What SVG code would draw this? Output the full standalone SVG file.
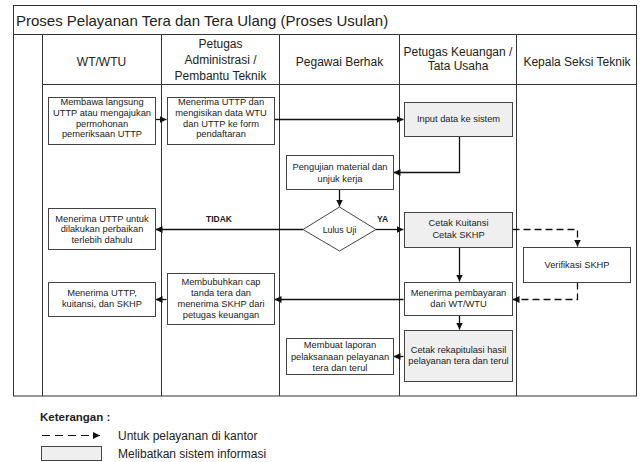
<svg xmlns="http://www.w3.org/2000/svg" width="640" height="462" viewBox="0 0 640 462">
  <defs>
    <marker id="arr" markerWidth="8" markerHeight="8" refX="7" refY="4" orient="auto" markerUnits="userSpaceOnUse">
      <path d="M0,0.5 L7,4 L0,7.5 Z" fill="#111"/>
    </marker>
    <style>
      .frame { fill: none; stroke: #333; stroke-width: 1; }
      .box { fill: #fff; stroke: #444; stroke-width: 1; }
      .sys { fill: #efefef; stroke: #444; stroke-width: 1; }
      .t { font-family: "Liberation Sans", Arial, sans-serif; font-size: 9.3px; fill: #222; text-anchor: middle; }
      .h { font-family: "Liberation Sans", Arial, sans-serif; font-size: 12px; fill: #222; text-anchor: middle; }
      .lbl { font-family: "Liberation Sans", Arial, sans-serif; font-size: 8.5px; font-weight: bold; fill: #222; }
      .flow { fill: none; stroke: #111; stroke-width: 1.3; marker-end: url(#arr); }
      .dash { fill: none; stroke: #111; stroke-width: 1.3; stroke-dasharray: 7 4; marker-end: url(#arr); }
      .leg { font-family: "Liberation Sans", Arial, sans-serif; font-size: 12px; fill: #222; }
    </style>
  </defs>

  <rect width="640" height="462" fill="#fff"/>

  <!-- swimlane frame -->
  <g id="frame">
    <rect class="frame" x="13.5" y="5.5" width="623" height="390.5"/>
    <line class="frame" x1="13.5" y1="34.5" x2="636.5" y2="34.5"/>
    <line class="frame" x1="42.5" y1="84.5" x2="636.5" y2="84.5"/>
    <line class="frame" x1="42.5" y1="34.5" x2="42.5" y2="396"/>
    <line class="frame" x1="161.5" y1="34.5" x2="161.5" y2="396"/>
    <line class="frame" x1="279.5" y1="34.5" x2="279.5" y2="396"/>
    <line class="frame" x1="399.5" y1="34.5" x2="399.5" y2="396"/>
    <line class="frame" x1="516.5" y1="34.5" x2="516.5" y2="396"/>
    <text x="16" y="26" font-family="Liberation Sans, Arial, sans-serif" font-size="15px" fill="#222">Proses Pelayanan Tera dan Tera Ulang (Proses Usulan)</text>
  </g>

  <!-- lane headers -->
  <g id="headers">
    <text class="h" x="101.5" y="66">WT/WTU</text>
    <text class="h" x="220.5" y="47.5">Petugas</text>
    <text class="h" x="220.5" y="63.5">Administrasi /</text>
    <text class="h" x="220.5" y="79.5">Pembantu Teknik</text>
    <text class="h" x="339.5" y="66">Pegawai Berhak</text>
    <text class="h" x="458" y="56">Petugas Keuangan /</text>
    <text class="h" x="458" y="69.5">Tata Usaha</text>
    <text class="h" x="577" y="66">Kepala Seksi Teknik</text>
  </g>

  <!-- connectors -->
  <g id="connectors">
    <path class="flow" d="M155.5,119.5 H166.5"/>
    <path class="flow" d="M274.5,119.5 H403.5"/>
    <path class="flow" d="M459.5,136.5 V172.5 H393.5"/>
    <path class="flow" d="M339.5,189.5 V206.5"/>
    <path class="flow" d="M303,229.5 H155.5"/>
    <path class="flow" d="M376,229.5 H403.5"/>
    <path class="dash" d="M512.5,229.5 H577.5 V246.5"/>
    <path class="flow" d="M459.5,247.5 V281.5"/>
    <path class="dash" d="M577.5,282.5 V299.5 H512.5"/>
    <path class="flow" d="M403.5,299.5 H274.5"/>
    <path class="flow" d="M166.5,299.5 H155.5"/>
    <path class="flow" d="M459.5,315.5 V329.5"/>
    <path class="flow" d="M403.5,356.5 H393.5"/>
    <text class="lbl" x="206" y="222">TIDAK</text>
    <text class="lbl" x="377" y="222">YA</text>
  </g>

  <!-- WT/WTU lane -->
  <g id="n-membawa">
    <rect class="box" x="48.5" y="97.5" width="107" height="47"/>
    <text class="t" x="102" y="105">Membawa langsung</text>
    <text class="t" x="102" y="115.8">UTTP atau mengajukan</text>
    <text class="t" x="102" y="126.6">permohonan</text>
    <text class="t" x="102" y="137.4">pemeriksaan UTTP</text>
  </g>
  <g id="n-perbaikan">
    <rect class="box" x="48.5" y="208.5" width="107" height="41"/>
    <text class="t" x="102" y="221.5">Menerima UTTP untuk</text>
    <text class="t" x="102" y="232.3">dilakukan perbaikan</text>
    <text class="t" x="102" y="243.1">terlebih dahulu</text>
  </g>
  <g id="n-terima-skhp">
    <rect class="box" x="48.5" y="282.5" width="107" height="34"/>
    <text class="t" x="102" y="296">Menerima UTTP,</text>
    <text class="t" x="102" y="307">kuitansi, dan SKHP</text>
  </g>

  <!-- Petugas Administrasi lane -->
  <g id="n-pendaftaran">
    <rect class="box" x="167.5" y="97.5" width="107" height="47"/>
    <text class="t" x="221" y="105">Menerima UTTP dan</text>
    <text class="t" x="221" y="115.8">mengisikan data WTU</text>
    <text class="t" x="221" y="126.6">dan UTTP ke form</text>
    <text class="t" x="221" y="137.4">pendaftaran</text>
  </g>
  <g id="n-cap">
    <rect class="box" x="167.5" y="273.5" width="107" height="51"/>
    <text class="t" x="221" y="285">Membubuhkan cap</text>
    <text class="t" x="221" y="295.8">tanda tera dan</text>
    <text class="t" x="221" y="306.8">menerima SKHP dari</text>
    <text class="t" x="221" y="317.8">petugas keuangan</text>
  </g>

  <!-- Pegawai Berhak lane -->
  <g id="n-pengujian">
    <rect class="box" x="286.5" y="155.5" width="107" height="34"/>
    <text class="t" x="340" y="169.5">Pengujian material dan</text>
    <text class="t" x="340" y="181.5">unjuk kerja</text>
  </g>
  <g id="n-lulus">
    <polygon class="box" points="339.5,207 376,229.5 339.5,251 303,229.5"/>
    <text class="t" x="339.5" y="232.5" style="font-size:8.8px">Lulus Uji</text>
  </g>
  <g id="n-laporan">
    <rect class="box" x="286.5" y="338.5" width="107" height="36"/>
    <text class="t" x="340" y="347.5">Membuat laporan</text>
    <text class="t" x="340" y="359.5">pelaksanaan pelayanan</text>
    <text class="t" x="340" y="371">tera dan terul</text>
  </g>

  <!-- Petugas Keuangan lane -->
  <g id="n-input">
    <rect class="sys" x="404.5" y="102.5" width="108" height="34"/>
    <text class="t" x="458.5" y="121.5">Input data ke sistem</text>
  </g>
  <g id="n-cetak">
    <rect class="sys" x="404.5" y="212.5" width="108" height="35"/>
    <text class="t" x="458.5" y="226">Cetak Kuitansi</text>
    <text class="t" x="458.5" y="238">Cetak SKHP</text>
  </g>
  <g id="n-pembayaran">
    <rect class="box" x="404.5" y="282.5" width="108" height="33"/>
    <text class="t" x="458.5" y="295.5">Menerima pembayaran</text>
    <text class="t" x="458.5" y="307">dari WT/WTU</text>
  </g>
  <g id="n-rekap">
    <rect class="sys" x="404.5" y="330.5" width="108" height="51"/>
    <text class="t" x="458.5" y="352.5">Cetak rekapitulasi hasil</text>
    <text class="t" x="458.5" y="364">pelayanan tera dan terul</text>
  </g>

  <!-- Kepala Seksi Teknik lane -->
  <g id="n-verifikasi">
    <rect class="box" x="523.5" y="247.5" width="107" height="35"/>
    <text class="t" x="577" y="267.5">Verifikasi SKHP</text>
  </g>

  <!-- legend -->
  <g id="legend">
    <text class="leg" x="40" y="421" style="font-weight:bold;font-size:11.5px">Keterangan :</text>
    <path d="M42,435.5 H100" fill="none" stroke="#111" stroke-width="1.2" stroke-dasharray="8 5" marker-end="url(#arr)"/>
    <text class="leg" x="118" y="439.5">Untuk pelayanan di kantor</text>
    <rect class="sys" x="41.5" y="446.5" width="60" height="14"/>
    <text class="leg" x="118" y="457.5">Melibatkan sistem informasi</text>
  </g>
</svg>
